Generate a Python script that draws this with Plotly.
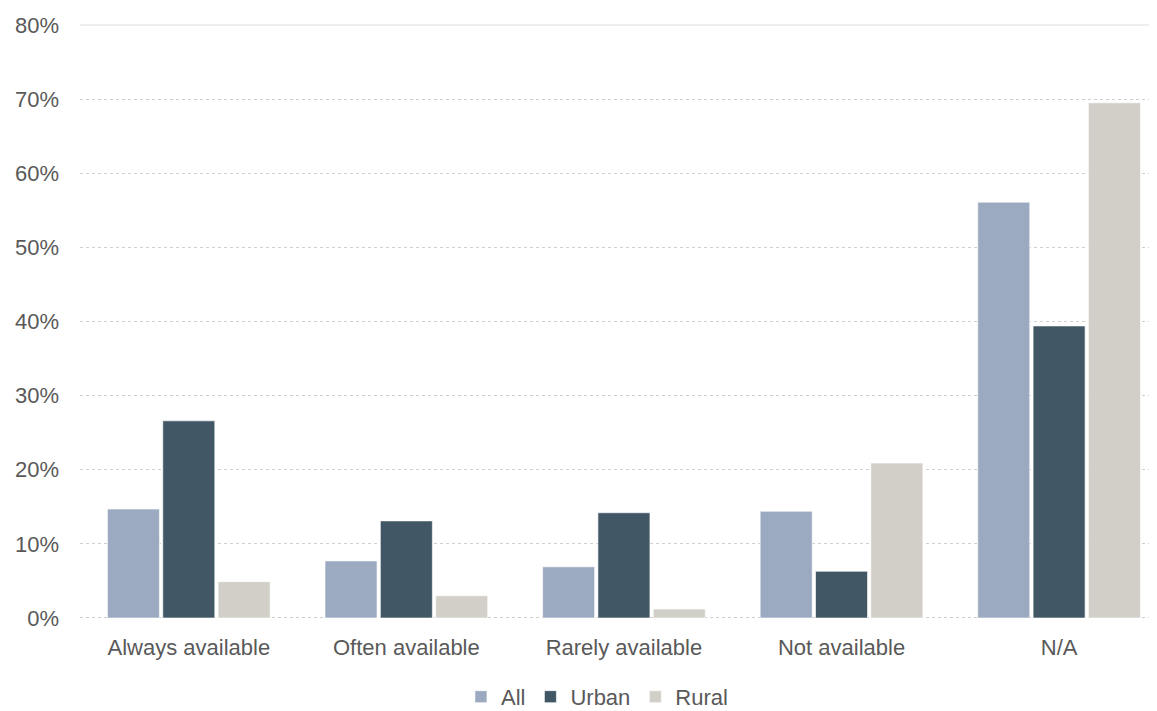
import plotly.graph_objects as go

categories = ["Always available", "Often available", "Rarely available", "Not available", "N/A"]
all_vals = [0.147, 0.077, 0.069, 0.144, 0.561]
urban_vals = [0.266, 0.131, 0.142, 0.063, 0.394]
rural_vals = [0.049, 0.030, 0.012, 0.209, 0.695]
y_ticks = [0, 0.1, 0.2, 0.3, 0.4, 0.5, 0.6, 0.7, 0.8]

colors = {"All": "#9BAAC0", "Urban": "#415766", "Rural": "#D1CFC7"}
font_family = "Liberation Sans, Arial, sans-serif"
text_color = "#595959"

fig = go.Figure()
for name, vals in [("All", all_vals), ("Urban", urban_vals), ("Rural", rural_vals)]:
    fig.add_trace(go.Bar(
        x=categories, y=vals, name=name,
        marker=dict(color=colors[name], line=dict(color="rgba(255,255,255,0.6)", width=1)),
    ))

# the page adds an 8px body margin, so the figure is sized to fill the rest
fig.update_layout(
    width=1149, height=703,
    margin=dict(l=72, r=0, t=17, b=93, autoexpand=False),
    paper_bgcolor="white", plot_bgcolor="white",
    barmode="group", bargap=0.237, bargroupgap=0.06,
    font=dict(family=font_family, size=22, color=text_color),
    legend=dict(orientation="h", x=0.48, xanchor="center", y=-0.133, yanchor="middle",
                font=dict(size=22, color=text_color), itemwidth=30, traceorder="normal",
                bgcolor="rgba(0,0,0,0)"),
    xaxis=dict(range=[-0.5, 4.45], showgrid=False, zeroline=False, showline=False,
               automargin=False, ticks="", ticklabelstandoff=14,
               tickfont=dict(size=22, color=text_color)),
    yaxis=dict(range=[0, 0.8], tickvals=y_ticks, tickformat=".0%", showgrid=True,
               gridcolor="#D0D0D0", griddash="dot", gridwidth=1, zeroline=False,
               showline=False, automargin=False, ticks="", ticklabelstandoff=20,
               tickfont=dict(size=22, color=text_color)),
)
fig.add_shape(type="line", xref="paper", yref="paper", x0=0, x1=1, y0=1, y1=1,
              line=dict(color="#E8E8E8", width=1.5), layer="below")
fig.add_shape(type="line", xref="paper", yref="y", x0=0, x1=1, y0=0, y1=0,
              line=dict(color="#BFBFBF", width=1.5, dash="dot"), layer="below")

fig.write_html("out.html")
